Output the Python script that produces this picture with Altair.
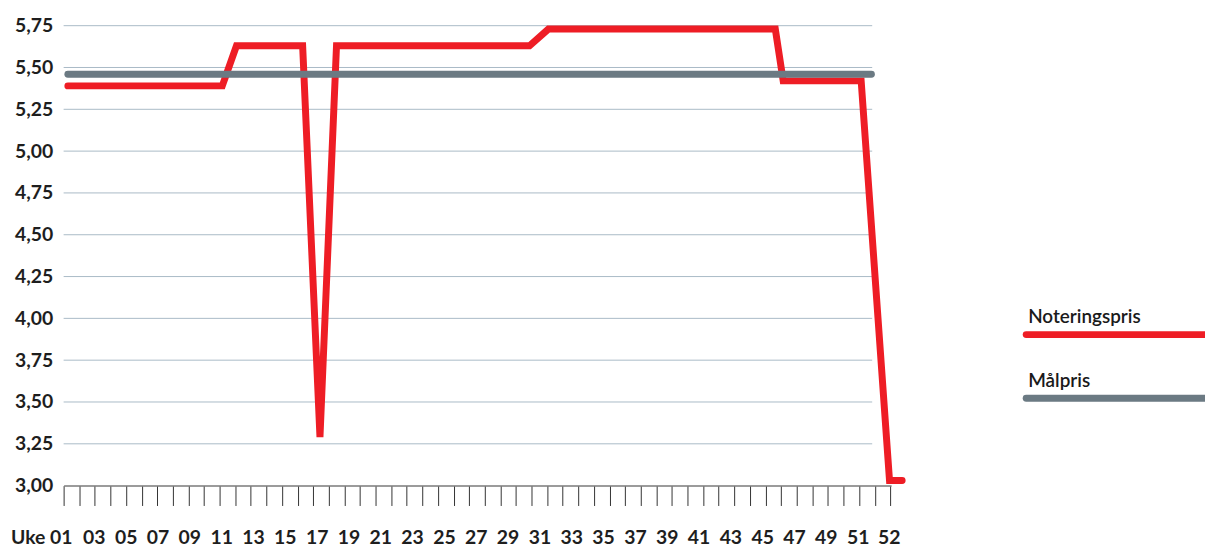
import altair as alt
import pandas as pd

# --- data ---
red_weeks = [1, 10.8, 11.7, 15.9, 17, 18.05, 30.3, 31.5, 45.9, 46.4, 51.35, 53.15, 53.95]
red_price = [5.39, 5.39, 5.63, 5.63, 3.29, 5.63, 5.63, 5.73, 5.73, 5.42, 5.42, 3.03, 3.03]

target_weeks = [1, 52]
target_price = [5.46, 5.46]

y_ticks = [3.00, 3.25, 3.50, 3.75, 4.00, 4.25, 4.50, 4.75, 5.00, 5.25, 5.50, 5.75]
grid_from, grid_to = 0.73, 52.05

week_labels = ["03", "05", "07", "09", "11", "13", "15", "17", "19", "21", "23", "25",
               "27", "29", "31", "33", "35", "37", "39", "41", "43", "45", "47", "49", "51", "52"]
week_label_pos = [2.68, 4.70, 6.72, 8.74, 10.76, 12.78, 14.80, 16.82, 18.84, 20.86, 22.88, 24.90,
                  26.92, 28.94, 30.96, 32.98, 35.0, 37.02, 39.04, 41.06, 43.08, 45.10, 47.12,
                  49.14, 51.16, 53.13]
first_label = "Uke 01"
first_label_pos = 0.667

tick_positions = [round(0.73 + 0.99 * k, 3) for k in range(54)]

series_names = ["Noteringspris", "Målpris"]
RED = "#ee1d25"
GREY = "#6b7a83"
FONT = "Lato"
FS = 19.5

x_scale = alt.Scale(domain=[0.73, 53.25], nice=False, zero=False)
y_scale = alt.Scale(domain=[3.0, 5.75], nice=False, zero=False)

x_axis = alt.Axis(values=tick_positions, labels=False, title=None, grid=False,
                  domain=True, domainColor="#7a7a7a", domainWidth=1.5,
                  ticks=True, tickColor="#333333", tickWidth=1, tickSize=20)
y_axis = alt.Axis(values=y_ticks, title=None, grid=False, domain=False, ticks=False,
                  labelExpr="replace(format(datum.value, '.2f'), '.', ',')",
                  labelFont=FONT, labelFontSize=FS, labelFontWeight="bold",
                  labelColor="#1e1e1e", labelPadding=11)


def X(field):
    return alt.X(field, scale=x_scale, axis=x_axis)


def Y(field):
    return alt.Y(field, scale=y_scale, axis=y_axis)


grid_df = pd.DataFrame({"v": [v for v in y_ticks if v > 3.0], "x0": grid_from, "x1": grid_to})
grid = alt.Chart(grid_df).mark_rule(color="#a9bac7", strokeWidth=1).encode(
    x=X("x0:Q"), x2="x1:Q", y=Y("v:Q"),
)

red_df = pd.DataFrame({"week": red_weeks, "price": red_price, "order": list(range(len(red_weeks)))})
red = alt.Chart(red_df).mark_line(color=RED, strokeWidth=7, strokeCap="round").encode(
    x=X("week:Q"), y=Y("price:Q"), order="order:Q",
)

grey_df = pd.DataFrame({"week": target_weeks, "price": target_price})
grey = alt.Chart(grey_df).mark_line(color=GREY, strokeWidth=7, strokeCap="round").encode(
    x=X("week:Q"), y=Y("price:Q"),
)

lab_df = pd.DataFrame({"w": week_label_pos, "t": week_labels})
labels = alt.Chart(lab_df).mark_text(font=FONT, fontSize=FS, fontWeight="bold",
                                     color="#1e1e1e", align="center", baseline="alphabetic").encode(
    x=X("w:Q"), y=alt.value(522), text="t:N",
)
first_df = pd.DataFrame({"w": [first_label_pos], "t": [first_label]})
first = alt.Chart(first_df).mark_text(font=FONT, fontSize=FS, fontWeight="bold",
                                      color="#1e1e1e", align="right", baseline="alphabetic", dx=10).encode(
    x=X("w:Q"), y=alt.value(522), text="t:N",
)

# custom legend
leg_layers = []
for name, color, ytxt, yline in [(series_names[0], RED, 299, 311), (series_names[1], GREY, 364, 375)]:
    d = pd.DataFrame({"name": [name]})
    leg_layers.append(alt.Chart(d).mark_text(font=FONT, fontSize=19, fontWeight=600, color="#1a1a1a",
                                             align="left", baseline="alphabetic").encode(
        x=alt.value(971), y=alt.value(ytxt), text="name:N"))
    leg_layers.append(alt.Chart(d).mark_rule(color=color, strokeWidth=7, strokeCap="round").encode(
        x=alt.value(969), x2=alt.value(1170), y=alt.value(yline)))

chart = alt.layer(grid, red, grey, labels, first, *leg_layers).properties(
    width=833, height=463,
    padding={"left": 56, "top": 16, "right": 316, "bottom": 61},
    autosize=alt.AutoSizeParams(type="none"),
).configure_view(stroke=None)

chart.save("out.html", embed_options={"renderer": "svg", "actions": False})
